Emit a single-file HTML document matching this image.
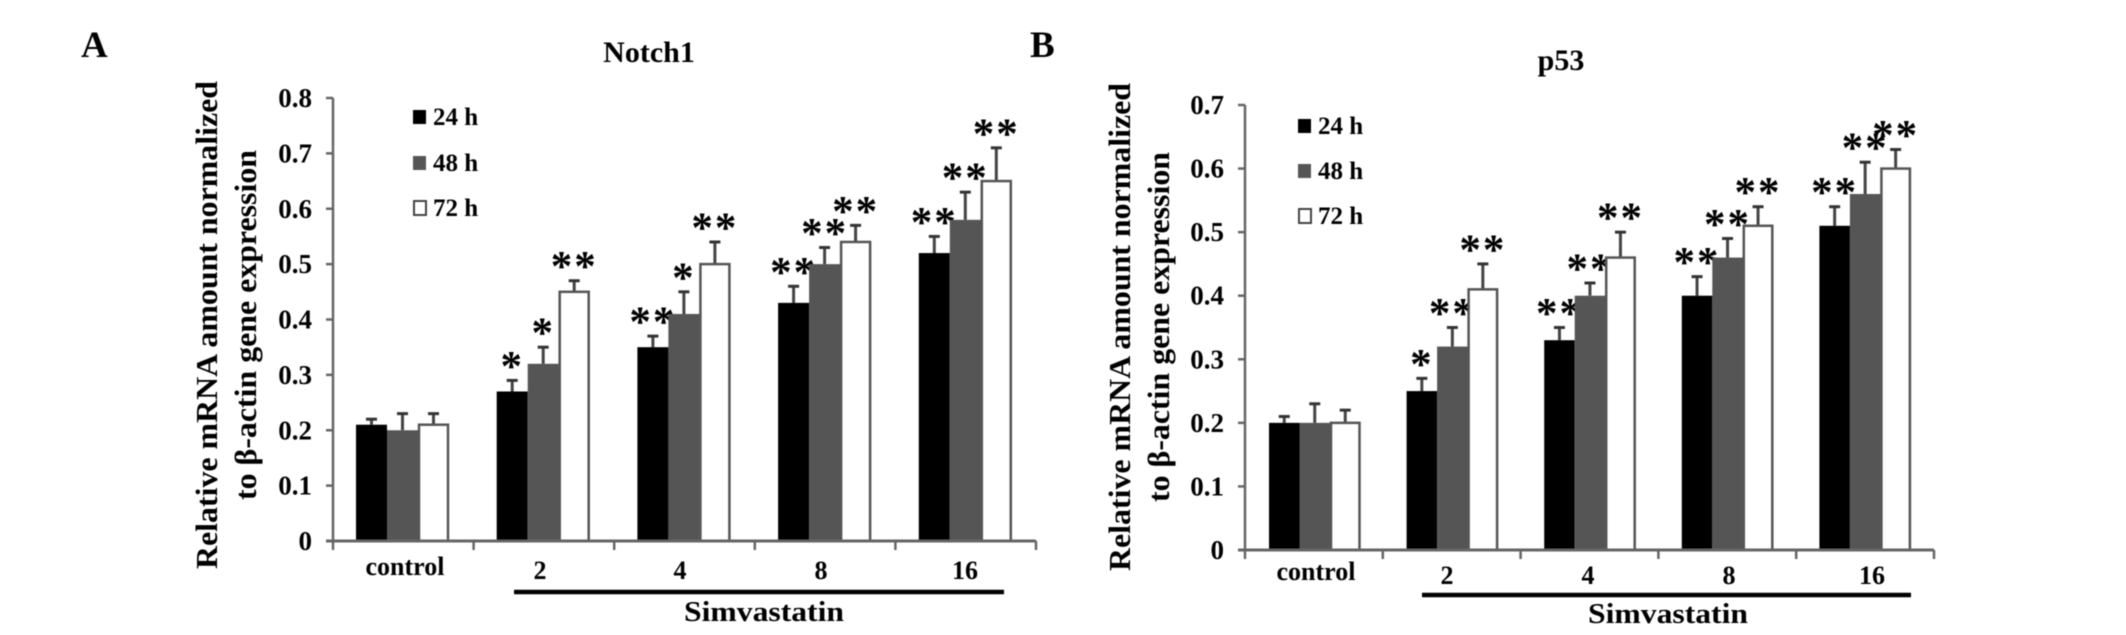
<!DOCTYPE html>
<html lang="en">
<head>
<meta charset="utf-8">
<title>Notch1 and p53 mRNA expression</title>
<style>
html,body{margin:0;padding:0;background:#fff;width:2126px;height:635px;overflow:hidden}
svg{display:block;filter:blur(0.5px)}
text{font-family:"Liberation Serif",serif;font-weight:bold;fill:#000}
</style>
</head>
<body>
<svg id="figure" width="2126" height="635" viewBox="0 0 2126 635" xmlns="http://www.w3.org/2000/svg">
  <rect width="2126" height="635" fill="#fff"/>
  <g id="panelA"></g>
  <g id="panelB"></g>
</svg>
<script>
const categories = ['control', '2', '4', '8', '16'];
const seriesNames = ['24 h', '48 h', '72 h'];
const seriesFills = ['#000', '#555', '#fff'];

const notchTicks = ['0', '0.1', '0.2', '0.3', '0.4', '0.5', '0.6', '0.7', '0.8'];
const notch24 = [0.21, 0.27, 0.35, 0.43, 0.52];
const notch48 = [0.20, 0.32, 0.41, 0.50, 0.58];
const notch72 = [0.21, 0.45, 0.50, 0.54, 0.65];
const notch24Err = [0.01, 0.02, 0.02, 0.03, 0.03];
const notch48Err = [0.03, 0.03, 0.04, 0.03, 0.05];
const notch72Err = [0.02, 0.02, 0.04, 0.03, 0.06];
const notch24Sig = ['', '*', '**', '**', '**'];
const notch48Sig = ['', '*', '*', '**', '**'];
const notch72Sig = ['', '**', '**', '**', '**'];

const p53Ticks = ['0', '0.1', '0.2', '0.3', '0.4', '0.5', '0.6', '0.7'];
const p5324 = [0.20, 0.25, 0.33, 0.40, 0.51];
const p5348 = [0.20, 0.32, 0.40, 0.46, 0.56];
const p5372 = [0.20, 0.41, 0.46, 0.51, 0.60];
const p5324Err = [0.01, 0.02, 0.02, 0.03, 0.03];
const p5348Err = [0.03, 0.03, 0.02, 0.03, 0.05];
const p5372Err = [0.02, 0.04, 0.04, 0.03, 0.03];
const p5324Sig = ['', '*', '**', '**', '**'];
const p5348Sig = ['', '**', '**', '**', '**'];
const p5372Sig = ['', '**', '**', '**', '**'];

const NS = 'http://www.w3.org/2000/svg';
function mk(parent, tag, attrs, txt) {
  const el = document.createElementNS(NS, tag);
  for (const k in attrs) el.setAttribute(k, attrs[k]);
  if (txt !== undefined) el.textContent = txt;
  parent.appendChild(el);
  return el;
}

function drawChart(root, c) {
  const yMax = Number(c.ticks[c.ticks.length - 1]);
  const yScale = v => c.y0 - (v / yMax) * (c.y0 - c.yTop);
  const axisColor = '#666';

  // panel letter & title
  const letter = mk(root, 'text', {x: c.letterX, y: 57, 'font-size': 37}, c.letter);
  
  
  const title = mk(root, 'text', {x: c.titleX, y: c.titleY, 'font-size': 30, 'text-anchor': 'middle'}, c.title);
  
  

  // y axis title (two rotated lines)
  const t1 = mk(root, 'text', {
    transform: 'translate(' + c.titleLine1X + ',' + (c.titleMid) + ') rotate(-90)',
    'text-anchor': 'middle', 'font-size': 31, textLength: 488, lengthAdjust: 'spacingAndGlyphs'
  }, 'Relative mRNA amount normalized');
  
  
  const t2 = mk(root, 'text', {
    transform: 'translate(' + c.titleLine2X + ',' + (c.titleMid) + ') rotate(-90)',
    'text-anchor': 'middle', 'font-size': 31, textLength: 350, lengthAdjust: 'spacingAndGlyphs'
  }, 'to β-actin gene expression');
  
  

  // bars, error bars, significance marks
  c.values.forEach((vals, s) => {
    vals.forEach((v, i) => {
      const left = c.barStart + i * c.groupStep + s * c.barW;
      const cx = left + c.barW / 2;
      const top = yScale(v);
      const errTop = yScale(v + c.errors[s][i]);
      const stem = mk(root, 'line', {x1: cx, x2: cx, y1: top, y2: errTop, stroke: '#444', 'stroke-width': 3});
      
      
      const cap = mk(root, 'line', {x1: cx - 5.5, x2: cx + 5.5, y1: errTop, y2: errTop, stroke: '#333', 'stroke-width': 3});
      
      
      const isWhite = seriesFills[s] === '#fff';
      const bar = mk(root, 'rect', {
        x: left + (isWhite ? 1 : 0), y: top, width: c.barW - (isWhite ? 2 : 0), height: c.y0 - top,
        fill: seriesFills[s], stroke: isWhite ? '#555' : 'none', 'stroke-width': isWhite ? 2.5 : 0
      });
      
      
      if (c.sig[s][i]) {
        const star = mk(root, 'text', {
          x: cx, y: errTop, 'font-size': 43, 'text-anchor': 'middle',
          'font-family': 'Liberation Sans', 'font-weight': 'normal', 'letter-spacing': 2
        }, c.sig[s][i]);
        
        
      }
    });
  });

  // axes
  const yAxis = mk(root, 'line', {x1: c.axisX, x2: c.axisX, y1: c.yTop, y2: c.y0, stroke: axisColor, 'stroke-width': 2.5});
  
  
  const xAxis = mk(root, 'line', {x1: c.axisX - 7, x2: c.axisEnd, y1: c.y0, y2: c.y0, stroke: axisColor, 'stroke-width': 3});
  
  

  c.ticks.forEach(t => {
    const y = yScale(Number(t));
    const tick = mk(root, 'line', {x1: c.axisX - 7, x2: c.axisX, y1: y, y2: y, stroke: axisColor, 'stroke-width': 2.5});
    
    
    const label = mk(root, 'text', {x: c.axisX - 21, y: y + 9, 'font-size': 27, 'text-anchor': 'end'}, t);
    
    
  });

  for (let i = 0; i <= categories.length; i++) {
    const x = c.axisX + i * (c.axisEnd - c.axisX) / categories.length;
    const tick = mk(root, 'line', {x1: x, x2: x, y1: c.y0, y2: c.y0 + 9, stroke: axisColor, 'stroke-width': 2.5});
    
    
  }

  categories.forEach((cat, i) => {
    const label = mk(root, 'text', {x: c.catX[i], y: c.catY + (i === 0 ? -4 : 0), 'font-size': 26, 'text-anchor': 'middle'}, cat);
    
    
  });

  // simvastatin bracket
  const rule = mk(root, 'line', {x1: c.ruleX1, x2: c.ruleX2, y1: c.ruleY, y2: c.ruleY, stroke: '#000', 'stroke-width': 4.5});
  
  
  const sim = mk(root, 'text', {x: c.simX, y: c.simY, 'font-size': 29, 'text-anchor': 'middle', textLength: 160, lengthAdjust: 'spacingAndGlyphs'}, 'Simvastatin');
  
  

  // legend
  seriesNames.forEach((name, s) => {
    const y = c.legendY[s];
    const isWhite = seriesFills[s] === '#fff';
    const sw = mk(root, 'rect', {
      x: c.legendX + (isWhite ? 1 : 0), y: y - 7, width: 13 - (isWhite ? 1 : 0), height: 14,
      fill: seriesFills[s], stroke: isWhite ? '#444' : 'none', 'stroke-width': isWhite ? 2 : 0
    });
    
    
    const label = mk(root, 'text', {x: c.legendX + 20, y: y + 8, 'font-size': 25}, name);
    
    
  });
}

drawChart(document.getElementById('panelA'), {
  letter: 'A', letterX: 81, title: 'Notch1', titleX: 649, titleY: 62,
  ticks: notchTicks,
  values: [notch24, notch48, notch72],
  errors: [notch24Err, notch48Err, notch72Err],
  sig: [notch24Sig, notch48Sig, notch72Sig],
  axisX: 333, axisEnd: 1036, y0: 541, yTop: 98,
  barStart: 356, barW: 31, groupStep: 140.7,
  titleLine1X: 217, titleLine2X: 256, titleMid: 325,
  catX: [405, 540, 680, 821, 965], catY: 579,
  ruleX1: 514, ruleX2: 1004, ruleY: 592,
  simX: 764, simY: 621,
  legendX: 413, legendY: [117, 163, 208]
});

drawChart(document.getElementById('panelB'), {
  letter: 'B', letterX: 1030, title: 'p53', titleX: 1561, titleY: 70,
  ticks: p53Ticks,
  values: [p5324, p5348, p5372],
  errors: [p5324Err, p5348Err, p5372Err],
  sig: [p5324Sig, p5348Sig, p5372Sig],
  axisX: 1245, axisEnd: 1934, y0: 550, yTop: 105,
  barStart: 1269, barW: 30.5, groupStep: 137.6,
  titleLine1X: 1130, titleLine2X: 1169, titleMid: 327,
  catX: [1316, 1447, 1588, 1729, 1872], catY: 584,
  ruleX1: 1422, ruleX2: 1911, ruleY: 595,
  simX: 1668, simY: 623,
  legendX: 1298, legendY: [126, 171, 216]
});
</script>
</body>
</html>
